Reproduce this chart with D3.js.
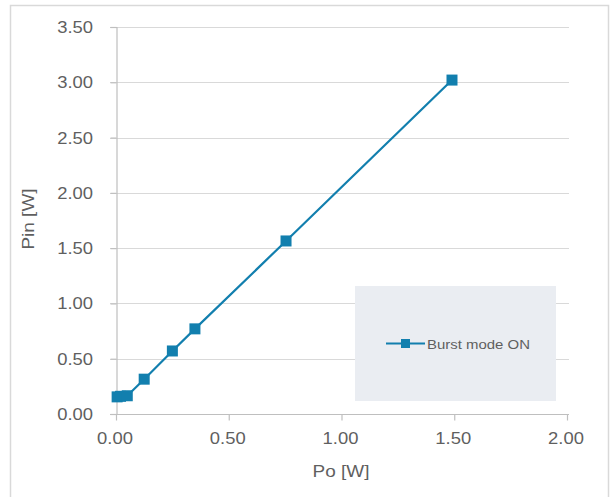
<!DOCTYPE html>
<html>
<head>
<meta charset="utf-8">
<script src="https://d3js.org/d3.v7.min.js"></script>
<style>
  body { margin: 0; background: #fff; }
  svg { display: block; }
  text { font-family: "Liberation Sans", Arial, sans-serif; fill: #5f5f5f; }
</style>
</head>
<body>
<script>
// Data
const po = [0.005, 0.02, 0.05, 0.125, 0.25, 0.35, 0.754, 1.49];
const pin = [0.155, 0.16, 0.165, 0.315, 0.57, 0.77, 1.565, 3.02];
const xTicks = [0, 0.5, 1, 1.5, 2];
const yTicks = [0, 0.5, 1, 1.5, 2, 2.5, 3, 3.5];
const seriesName = "Burst mode ON";

const W = 614, H = 497;
const blue = "#127fae";
const grid = "#d9d9d9";
const stretch = 1.15; // text in the picture is a bit wider than normal

const svg = d3.select("body").append("svg")
  .attr("width", W)
  .attr("height", H);

// outer chart border
svg.append("rect")
  .attr("x", 10.5).attr("y", 5.5)
  .attr("width", 598).attr("height", 520)
  .attr("fill", "#fff")
  .attr("stroke", grid)
  .attr("stroke-width", 1.5);

const x = d3.scaleLinear().domain([0, 2]).range([116, 567]);
const y = d3.scaleLinear().domain([0, 3.5]).range([414, 27]);

function label(g, tx, ty, str, size, anchor) {
  return g.append("text")
    .attr("transform", `translate(${tx},${ty}) scale(${stretch},1)`)
    .attr("font-size", size)
    .attr("text-anchor", anchor)
    .text(str);
}

// horizontal gridlines
svg.append("g").selectAll("line")
  .data(yTicks.filter(d => d > 0))
  .join("line")
  .attr("x1", 110).attr("x2", 569)
  .attr("y1", d => Math.round(y(d)) + 0.5)
  .attr("y2", d => Math.round(y(d)) + 0.5)
  .attr("stroke", grid)
  .attr("stroke-width", 1.2);

// axes
const xAxis = svg.append("g")
  .attr("transform", `translate(0,${Math.round(y(0)) + 0.5})`)
  .call(d3.axisBottom(x).tickValues(xTicks).tickSize(6).tickFormat(""));
const yAxis = svg.append("g")
  .attr("transform", `translate(${Math.round(x(0)) + 0.5},0)`)
  .call(d3.axisLeft(y).tickValues(yTicks).tickSize(6).tickFormat(""));
[xAxis, yAxis].forEach(a => {
  a.select(".domain").attr("stroke", "#bfbfbf").attr("stroke-width", 1.2);
  a.selectAll(".tick line").attr("stroke", "#bfbfbf").attr("stroke-width", 1.2);
});
xAxis.select(".domain").attr("d", `M${x(0) - 6},0H${x(2) + 2}`);

// tick labels
const labels = svg.append("g");
xTicks.forEach(d => label(labels, x(d) - 1, 444, d.toFixed(2), 16, "middle"));
yTicks.forEach(d => label(labels, 93, y(d) + 6, d.toFixed(2), 16, "end"));

// axis titles
label(svg, 341, 477, "Po [W]", 16.5, "middle");
svg.append("text")
  .attr("transform", `translate(34,219) rotate(-90) scale(${stretch},1)`)
  .attr("font-size", 16.5)
  .attr("text-anchor", "middle")
  .text("Pin [W]");

// series
const pts = po.map((d, i) => [d, pin[i]]);
svg.append("path")
  .datum(pts)
  .attr("fill", "none")
  .attr("stroke", blue)
  .attr("stroke-width", 2.2)
  .attr("d", d3.line().x(d => x(d[0])).y(d => y(d[1])));

const ms = 11;
svg.append("g").selectAll("rect")
  .data(pts)
  .join("rect")
  .attr("x", d => x(d[0]) - ms / 2)
  .attr("y", d => y(d[1]) - ms / 2)
  .attr("width", ms).attr("height", ms)
  .attr("fill", blue);

// legend
const lg = svg.append("g");
lg.append("rect")
  .attr("x", 355).attr("y", 286)
  .attr("width", 201).attr("height", 115)
  .attr("fill", "#eaedf2");
lg.append("line")
  .attr("x1", 386).attr("x2", 425)
  .attr("y1", 343.5).attr("y2", 343.5)
  .attr("stroke", blue).attr("stroke-width", 2.2);
lg.append("rect")
  .attr("x", 401).attr("y", 339)
  .attr("width", 9).attr("height", 9)
  .attr("fill", blue);
label(lg, 427, 348.5, seriesName, 13, "start");
</script>
</body>
</html>
